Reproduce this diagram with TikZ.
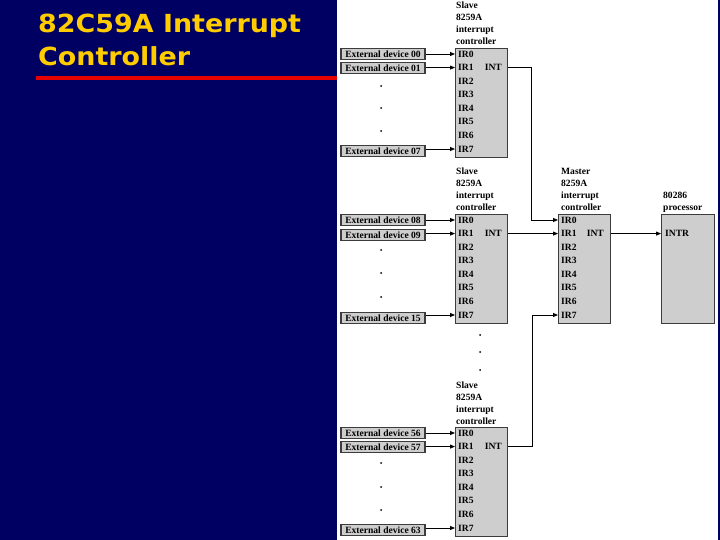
\documentclass[tikz,border=0pt]{standalone}
\usepackage{fontspec}
\setmainfont{Liberation Serif}
\newfontfamily\titlefont{DejaVu Sans}
\usetikzlibrary{arrows.meta}
\definecolor{navy}{RGB}{0,0,98}
\definecolor{titleyellow}{RGB}{255,204,0}
\definecolor{redbar}{RGB}{230,0,0}
\definecolor{boxgray}{RGB}{206,206,206}
\definecolor{edgegray}{RGB}{60,60,60}
\newcommand\ctrlbox[3]{% name, x, top
  \node[ctrl] (#1) at (#2,#3) {};
  \foreach \i in {0,...,7} {\node[lbl] (#1ir\i) at (#2+3,#3+6+13.57*\i) {IR\i};}
}
\newcommand\ctrllabel[4]{% name, x, top, first word
  \node[lbl,anchor=base west] (#1l1) at (#2,#3-39) {#4};
  \node[lbl,anchor=base west] (#1l2) at (#2,#3-27) {8259A};
  \node[lbl,anchor=base west] (#1l3) at (#2,#3-15) {interrupt};
  \node[lbl,anchor=base west] (#1l4) at (#2,#3-3) {controller};
}
\begin{document}
\begin{tikzpicture}[x=1bp,y=-1bp,
  ctrl/.style={draw=edgegray,line width=1.3bp,fill=boxgray,minimum width=52bp,minimum height=109bp,anchor=north west,inner sep=0},
  dev/.style={draw=edgegray,line width=1.3bp,fill=boxgray,minimum width=84bp,minimum height=11bp,inner sep=0,font=\bfseries\fontsize{9.6}{10}\selectfont},
  lbl/.style={font=\bfseries\fontsize{9.6}{12}\selectfont,inner sep=0,anchor=west},
  wire/.style={black,line width=0.8bp},
  arr/.style={wire,-{Triangle[length=5bp,width=4bp]}},
  dotm/.style={black}]
\useasboundingbox (0,0) rectangle (720,540);
\fill[navy] (0,0) rectangle (720,540);
\fill[white] (337,0) rectangle (718,540);
% title
\node[anchor=base west,inner sep=0,text=titleyellow,font=\titlefont\bfseries\fontsize{25}{25}\selectfont] (title1) at (38,33) {\scalebox{1.08}[1]{82C59A Interrupt}};
\node[anchor=base west,inner sep=0,text=titleyellow,font=\titlefont\bfseries\fontsize{25}{25}\selectfont] (title2) at (38,66) {\scalebox{1.08}[1]{Controller}};
\fill[redbar] (36,76) rectangle (337,80);
% controllers
\ctrlbox{sa}{455}{48}
\ctrlbox{sb}{455}{214}
\ctrlbox{sc}{455}{427}
\ctrlbox{m}{558}{214}
\ctrllabel{sa}{456}{48}{Slave}
\ctrllabel{sb}{456}{214}{Slave}
\ctrllabel{sc}{456}{427}{Slave}
\ctrllabel{m}{561}{214}{Master}
\node[lbl,anchor=east] (saint) at (502,67.57) {INT};
\node[lbl,anchor=east] (sbint) at (502,233.57) {INT};
\node[lbl,anchor=east] (scint) at (502,446.57) {INT};
\node[lbl,anchor=east] (mint) at (604,233.57) {INT};
% processor
\node[ctrl,minimum width=53bp] (p) at (661,214) {};
\node[lbl,anchor=base west] (pl1) at (663,199) {80286};
\node[lbl,anchor=base west] (pl2) at (663,211) {processor};
\node[lbl] (pintr) at (665,233.57) {INTR};
% external devices
\node[dev] (d00) at (383,54) {External device 00};
\node[dev] (d01) at (383,68) {External device 01};
\node[dev] (d07) at (383,151) {External device 07};
\node[dev] (d08) at (383,220) {External device 08};
\node[dev] (d09) at (383,235) {External device 09};
\node[dev] (d15) at (383,318) {External device 15};
\node[dev] (d56) at (383,433) {External device 56};
\node[dev] (d57) at (383,447) {External device 57};
\node[dev] (d63) at (383,530) {External device 63};
\foreach \d/\c/\r in {d00/sa/0,d01/sa/1,d07/sa/7,d08/sb/0,d09/sb/1,d15/sb/7,d56/sc/0,d57/sc/1,d63/sc/7}{
  \draw[arr] (\d.east |- \c ir\r.west) -- (\c.west |- \c ir\r.west);
}
% vertical dots
\foreach \y in {86,108,131,250,273,297,463,487,510}{\fill[dotm] (381,\y) circle (1);}
\foreach \y in {335,352,370}{\fill[dotm] (480,\y) circle (1);}
% INT connections
\coordinate (ja) at (531,0);
\coordinate (jc) at (532,0);
\draw[arr] (sa.east |- saint.east) -| (ja |- mir0.west) -- (m.west |- mir0.west);
\draw[arr] (sb.east |- sbint.east) -- (m.west |- sbint.east);
\draw[arr] (sc.east |- scint.east) -| (jc |- mir7.west) -- (m.west |- mir7.west);
\draw[arr] (m.east |- mint.east) -- (p.west |- mint.east);
\end{tikzpicture}
\end{document}
